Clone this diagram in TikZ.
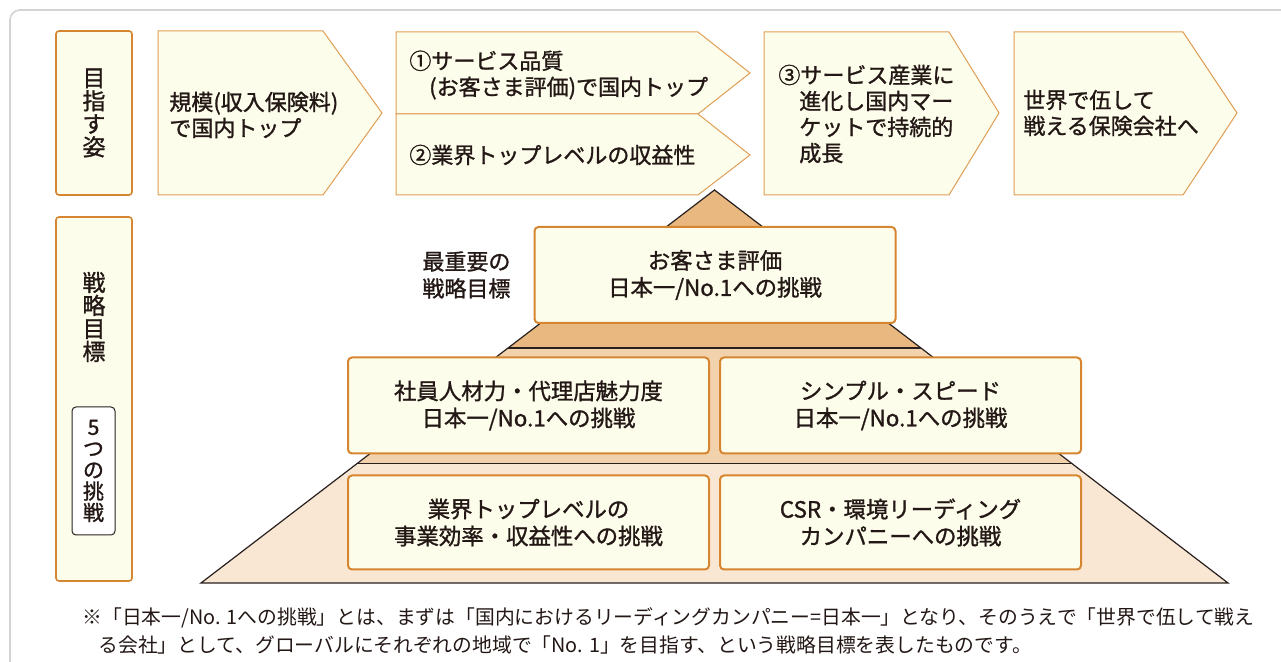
\documentclass[tikz,border=0pt]{standalone}
\usepackage{fontspec}
\setmainfont{Noto Sans CJK JP}
\newfontfamily\jpmed{Noto Sans CJK JP}[FakeBold=1.2]
\usetikzlibrary{positioning,calc}
\definecolor{mycream}{RGB}{253,253,236}
\definecolor{myorange}{RGB}{214,134,48}
\definecolor{mylightorange}{RGB}{224,158,84}
\definecolor{mytext}{RGB}{35,24,21}
\definecolor{mytop}{RGB}{232,184,128}
\definecolor{mymid}{RGB}{242,210,172}
\definecolor{mybot}{RGB}{249,231,211}
\definecolor{mygray}{RGB}{212,212,212}
\definecolor{myline}{RGB}{40,32,30}

\begin{document}
\begin{tikzpicture}[x=0.5pt,y=-0.5pt,
  labelbox/.style={draw=myorange,fill=mycream,line width=0.8pt,rounded corners=1.5pt,minimum width=38pt},
  arrowbox/.style={draw=mylightorange,fill=mycream,line width=0.5pt},
  goalbox/.style={draw=myorange,fill=mycream,line width=1pt,rounded corners=2pt,
    minimum width=180.5pt,minimum height=48pt,align=center,text=mytext,
    font=\jpmed\fontsize{11.2pt}{13.5pt}\selectfont},
  arrowtext/.style={anchor=west,align=left,inner sep=0pt,text=mytext,
    font=\jpmed\fontsize{11pt}{13pt}\selectfont},
  vtext/.style={align=center,inner sep=0pt,text=mytext,
    font=\jpmed\fontsize{11.5pt}{11.5pt}\selectfont}
]
\useasboundingbox (0,0) rectangle (1281,662);
\fill[white] (0,0) rectangle (1281,662);

% the outer frame
\begin{scope}
  \clip (0,0) rectangle (1281,662);
  \draw[mygray,line width=0.8pt,rounded corners=5pt] (10,10) rectangle (1300,700);
\end{scope}

% the labels on the left
\node[labelbox,minimum height=82pt,vtext] (aim) at (94,113) {目\\指\\す\\姿};
\node[labelbox,minimum height=182pt] (strategy) at (94,399) {};
\node[vtext] (strategytext) at (94,317) {戦\\略\\目\\標};
\node[draw=myline,fill=white,line width=0.5pt,rounded corners=2pt,
  minimum width=21.5pt,minimum height=64pt,vtext,
  font=\jpmed\fontsize{10.5pt}{10.7pt}\selectfont] (five) at (93.5,471) {5\\つ\\の\\挑\\戦};

% the goals along the top
\draw[arrowbox] (158,31) -- (323,31) -- (382,113) -- (323,195) -- (158,195) -- cycle;
\draw[arrowbox] (396,32) -- (698,32) -- (750,73) -- (698,114) -- (396,114) -- cycle;
\draw[arrowbox] (396,114) -- (698,114) -- (750,155) -- (698,195) -- (396,195) -- cycle;
\draw[arrowbox] (764,32) -- (949,32) -- (999,113) -- (949,195) -- (764,195) -- cycle;
\draw[arrowbox] (1014,32) -- (1183,32) -- (1237,113) -- (1183,195) -- (1014,195) -- cycle;

\node[arrowtext] (scale) at (169,115) {規模(収入保険料)\\で国内トップ};
\node[arrowtext] (quality) at (409,75) {①サービス品質\\\hspace*{0.9em}(お客さま評価)で国内トップ};
\node[arrowtext] (earning) at (409,155) {②業界トップレベルの収益性};
\node[arrowtext] (growth) at (778,114) {③サービス産業に\\\hspace*{0.95em}進化し国内マー\\\hspace*{0.95em}ケットで持続的\\\hspace*{0.95em}成長};
\node[arrowtext] (world) at (1023,113) {世界で伍して\\戦える保険会社へ};

% the pyramid
\coordinate (apex) at (714.5,190);
\coordinate (bl) at (201,583);
\coordinate (br) at (1228,583);
\coordinate (l1) at ($(apex)!0.402!(bl)$);
\coordinate (r1) at ($(apex)!0.402!(br)$);
\coordinate (l2) at ($(apex)!0.695!(bl)$);
\coordinate (r2) at ($(apex)!0.695!(br)$);
\fill[mybot] (l2) -- (r2) -- (br) -- (bl) -- cycle;
\fill[mymid] (l1) -- (r1) -- (r2) -- (l2) -- cycle;
\fill[mytop] (apex) -- (r1) -- (l1) -- cycle;
\draw[myline,line width=0.6pt] (bl) -- (apex) -- (br) -- cycle;
\draw[myline,line width=0.6pt] (l1) -- (r1);
\draw[myline,line width=0.6pt] (l2) -- (r2);

% the five challenges
\node[goalbox] (customer) at (715,275) {お客さま評価\\日本一/No.1への挑戦};
\node[goalbox] (staff) at (528.5,405.5) {社員人材力・代理店魅力度\\日本一/No.1への挑戦};
\node[goalbox,right=4.5pt of staff] (simple) {シンプル・スピード\\日本一/No.1への挑戦};
\node[goalbox,minimum height=47pt] (efficiency) at (528.5,522.5) {業界トップレベルの\\事業効率・収益性への挑戦};
\node[goalbox,minimum height=47pt,right=4.5pt of efficiency] (csr) {CSR・環境リーディング\\カンパニーへの挑戦};
\node[align=left,text=mytext,font=\jpmed\fontsize{11pt}{13.5pt}\selectfont,
  left=8pt of customer] (key) {最重要の\\戦略目標};

% the note
\node[anchor=west,align=left,inner sep=0pt,text=mytext,
  font=\fontsize{9.9pt}{14pt}\selectfont] (note) at (82,631)
  {※「日本一/No. 1への挑戦」とは、まずは「国内におけるリーディングカンパニー=日本一」となり、そのうえで「世界で伍して戦え\\
   \hspace*{8pt}る会社」として、グローバルにそれぞれの地域で「No. 1」を目指す、という戦略目標を表したものです。};
\end{tikzpicture}
\end{document}
